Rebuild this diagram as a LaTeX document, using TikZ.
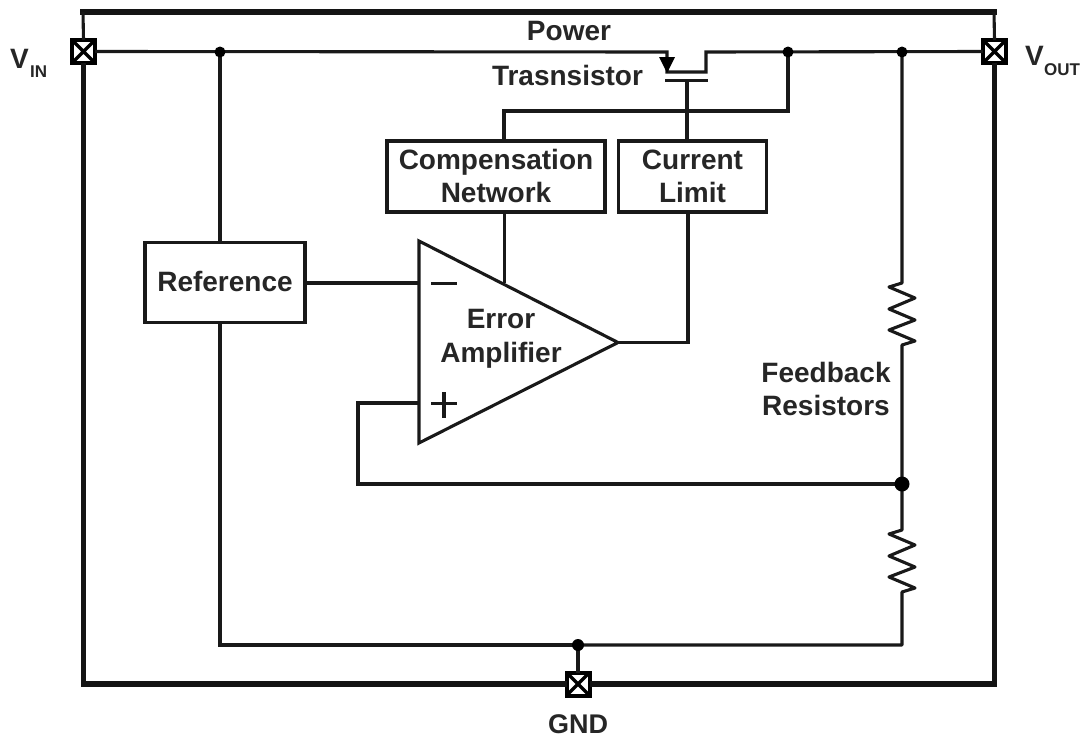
\documentclass[tikz,border=0pt]{standalone}
\usepackage{fontspec}
\setmainfont{Liberation Sans}
\usetikzlibrary{calc}
\tikzset{
  wire/.style={draw=black!90,line width=3.1pt,line join=miter},
  frame/.style={draw=black!92,line width=5.6pt},
  boxn/.style={draw=black!90,line width=3.1pt,fill=white,inner sep=0pt,align=center,font=\fontsize{28}{33}\selectfont\bfseries,text=black!85},
  lab/.style={inner sep=0pt,align=center,font=\fontsize{28}{33}\selectfont\bfseries,text=black!85},
  subt/.style={font=\fontsize{17}{17}\selectfont\bfseries,text=black!85,inner sep=0pt},
  pad/.style={draw=black,line width=4pt,fill=white,minimum size=23pt,inner sep=0pt,outer sep=0pt,
     path picture={\draw[black,line width=3.4pt] (path picture bounding box.south west)--(path picture bounding box.north east)
       (path picture bounding box.north west)--(path picture bounding box.south east);}},
  dot/.style={circle,fill=black,inner sep=0pt,minimum size=#1},
  dot/.default=11pt
}
\begin{document}
\begin{tikzpicture}[x=1pt,y=-1pt]
\useasboundingbox (0,0) rectangle (1086,737);
\fill[white] (0,0) rectangle (1086,737);
% frame
\coordinate (tl) at (83,12); \coordinate (tr) at (994,12);
\node[pad] (vin) at (83.5,51.5) {};
\node[pad] (vout) at (994.5,51.5) {};
\node[pad] (gnd) at (578,684) {};
\draw[frame] (vin.south) |- (gnd.west);
\draw[frame] (gnd.east) -| (vout.south);
\draw[frame,line cap=rect] (tl) -- (tr);
\draw[wire] (vin.north) -- (tl);
\draw[wire] (vout.north) -- (tr);
% boxes
\node[boxn,minimum width=160pt,minimum height=80pt] (ref) at (225,282.5) {\raisebox{1.5pt}{Reference}};
\node[boxn,minimum width=218pt,minimum height=71pt] (comp) at (496,176.5) {\raisebox{1.5pt}{Compensation}\\\raisebox{1.5pt}{Network}};
\node[boxn,minimum width=148pt,minimum height=71pt] (lim) at (692.5,176.5) {\raisebox{1.5pt}{Current}\\\raisebox{1.5pt}{Limit}};
% amplifier
\coordinate (a1) at (419,241); \coordinate (a2) at (419,443); \coordinate (a3) at (618,342.5);
\coordinate (jin) at (220,52); \coordinate (jout1) at (788,52); \coordinate (jout2) at (902,52);
\coordinate (jfb) at (902,484); \coordinate (jgnd) at (578,645);
\coordinate (minus) at (419,283); \coordinate (plus) at (419,403);
% top rail and transistor
\coordinate (src) at (667,52); \coordinate (srcb) at (667,72); \coordinate (drnb) at (706,72); \coordinate (drn) at (706,52);
\coordinate (gtl) at (665,80.5); \coordinate (gtr) at (708,80.5); \coordinate (gt) at (687,80.5);
\draw[wire] (vin.east) -- (src) -- (srcb) -- (drnb) -- (drn) -- (vout.west);
\fill[black] (659,57) -- (675,57) -- (667,73) -- cycle;
\draw[wire] (gtl) -- (gtr);
\draw[wire] (gt) -- (gt |- lim.north);
% connections
\coordinate (cfbtop) at (504,111);
\coordinate (cin) at (504.5,283);
\coordinate (clim) at (688,212);
\coordinate (cfb) at (358,403);
\draw[wire] (jin) -- (jin |- ref.north);
\draw[wire] (jin |- ref.south) -- (jin |- jgnd) -- (jgnd);
\draw[wire] (jout1) |- (cfbtop) -- (cfbtop |- comp.north);
\draw[wire] (ref.east |- minus) -- (minus);
\draw[wire] (cin) -- (cin |- comp.south);
\draw[wire] (a3) -| (clim);
\draw[wire] (plus) -- (cfb) |- (jfb);
\draw[wire] (jgnd) -- (gnd.north);
% resistors
\draw[wire,line join=round] (jout2) -- (902,283) -- (889,287) -- (915,298) -- (889,309) -- (915,320) -- (889,330) -- (915,341) -- (902,345) -- (jfb);
\draw[wire,line join=round] (jfb) -- (902,530) -- (889,534) -- (915,545) -- (889,556) -- (915,567) -- (889,577) -- (915,588) -- (902,592) -- (902,645) -- (jgnd);
\node[dot=11pt] (d1) at (jin) {};
\node[dot=11pt] (d2) at (jout1) {};
\node[dot=11pt] (d3) at (jout2) {};
\node[dot=15pt] (d4) at (jfb) {};
\node[dot=12pt] (d5) at (jgnd) {};
% amp triangle
\draw[wire,fill=white,line join=miter] (a1) -- (a3) -- (a2) -- cycle;
\draw[wire] (431,283.5) -- (457,283.5);
\draw[wire] (431,403.5) -- (457,403.5) (444,392) -- (444,418);
% labels
\node[lab,font=\fontsize{28}{34}\selectfont\bfseries] (tamp) at (501,338.5) {Error\\Amplifier};
\node[lab] (tpow) at (569,31) {Power};
\node[lab] (ttr) at (567.5,75) {Trasnsistor};
\node[lab] (tfb) at (826,389) {Feedback\\Resistors};
\node[lab,font=\fontsize{27}{33}\selectfont\bfseries] (tgnd) at (578,724) {GND};
\node[lab,anchor=base west] (tvin) at (10,68) {V};
\node[subt,anchor=base west] (tvinsub) at (30,77) {IN};
\node[lab,anchor=base west] (tvout) at (1025,65) {V};
\node[subt,anchor=base west] (tvoutsub) at (1044,75) {OUT};
\end{tikzpicture}
\end{document}
